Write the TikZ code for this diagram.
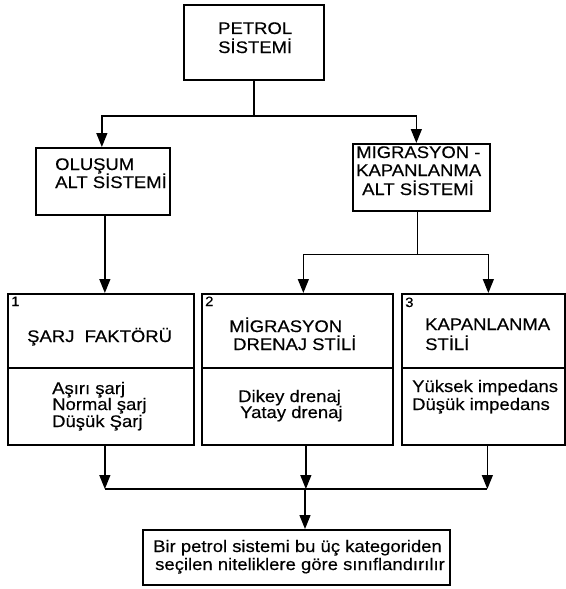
\documentclass[tikz,border=0pt]{standalone}
\usepackage{fontspec}
\setmainfont[FakeStretch=1.1,FakeBold=0.35]{Liberation Sans}
\usetikzlibrary{arrows.meta}
\newcommand{\mainsz}{\fontsize{16.8}{18}\selectfont}
\newcommand{\numsz}{\fontsize{13.5}{14}\selectfont}
\begin{document}
\begin{tikzpicture}[x=1pt,y=-1pt,
  box/.style={draw, line width=1.7pt, rectangle, inner sep=0pt, anchor=north west},
  txt/.style={anchor=base west, inner sep=0pt, font=\mainsz},
  num/.style={anchor=base west, inner sep=0pt, font=\numsz},
  conn/.style={line width=1.3pt},
  arr/.style={line width=1.3pt, -{Triangle[length=14pt,width=11pt]}}]
\useasboundingbox (0,0) rectangle (565,589);

% boxes
\node[box, minimum width=140pt, minimum height=75pt] (petrol) at (183,4) {};
\node[box, minimum width=134pt, minimum height=67pt] (olusum) at (35,147) {};
\node[box, minimum width=137pt, minimum height=67pt] (migr) at (352,143) {};
\node[box, minimum width=186pt, minimum height=151pt] (b1) at (7,293) {};
\node[box, minimum width=191pt, minimum height=151pt] (b2) at (201,293) {};
\node[box, minimum width=163pt, minimum height=151pt] (b3) at (401,293) {};
\node[box, minimum width=307pt, minimum height=55pt] (final) at (142,529) {};

% dividers
\draw[line width=1.7pt] (b1.west |- 0,368) coordinate (d1a) -- (b1.east |- d1a);
\draw[line width=1.7pt] (b2.west |- 0,368) coordinate (d2a) -- (b2.east |- d2a);
\draw[line width=1.7pt] (b3.west |- 0,368) coordinate (d3a) -- (b3.east |- d3a);

% texts
\node[txt] (t1) at (218,34) {PETROL};
\node[txt] (t2) at (218,53) {SİSTEMİ};
\node[txt] (t3) at (55,170) {OLUŞUM};
\node[txt] (t4) at (55,188) {ALT SİSTEMİ};
\node[txt] (t5) at (356,158) {MİGRASYON -};
\node[txt] (t6) at (356,176) {KAPANLANMA};
\node[txt] (t7) at (362,195) {ALT SİSTEMİ};

\node[num] (n1) at (11,306) {1};
\node[num] (n2) at (205,306) {2};
\node[num] (n3) at (405,307) {3};

\node[txt] (s1) at (27,342) {ŞARJ\ \ FAKTÖRÜ};
\node[txt] (s2a) at (229,332) {MİGRASYON};
\node[txt] (s2b) at (233,350) {DRENAJ STİLİ};
\node[txt] (s3a) at (425,330) {KAPANLANMA};
\node[txt] (s3b) at (425,350) {STİLİ};

\node[txt] (i1a) at (52,394) {Aşırı şarj};
\node[txt] (i1b) at (52,410) {Normal şarj};
\node[txt] (i1c) at (52,427) {Düşük Şarj};
\node[txt] (i2a) at (238,402) {Dikey drenaj};
\node[txt] (i2b) at (240,418) {Yatay drenaj};
\node[txt] (i3a) at (412,392) {Yüksek impedans};
\node[txt] (i3b) at (412,410) {Düşük impedans};

\node[txt] (f1) at (153,552) {Bir petrol sistemi bu üç kategoriden};
\node[txt] (f2) at (155,570) {seçilen niteliklere göre sınıflandırılır};

% connectors
\coordinate (j1) at (254,116);
\draw[conn] (petrol.south -| j1) -- (j1);
\draw[arr] (j1) -| ([xshift=-1pt]olusum.north);
\draw[arr] (j1) -| ([xshift=-5pt]migr.north);
\draw[arr] ([xshift=2pt]olusum.south) -- ([xshift=2pt]olusum.south |- b1.north);

\draw[conn] ([xshift=-4pt]migr.south) -- ++(0,43) coordinate (j2);
\draw[arr] (j2) -| ([xshift=6pt]b2.north);
\draw[arr] (j2) -| ([xshift=5pt]b3.north);

\coordinate (j3) at (305,489);
\draw[arr] ([xshift=4pt]b1.south) -- ([xshift=4pt]b1.south |- j3);
\draw[arr] ([xshift=8.5pt]b2.south) -- ([xshift=8.5pt]b2.south |- j3);
\draw[arr] ([xshift=4pt]b3.south) -- ([xshift=4pt]b3.south |- j3);
\draw[conn] ([xshift=4pt]b1.south |- j3) -- ([xshift=4pt]b3.south |- j3);
\draw[arr] (j3) -- (j3 |- final.north);
\end{tikzpicture}
\end{document}
